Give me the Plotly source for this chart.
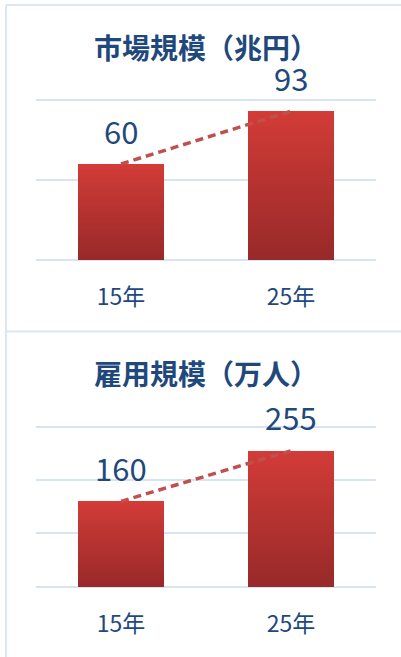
import plotly.graph_objects as go

# ---- data ----
categories = ["15年", "25年"]
market_values = [60, 93]          # 市場規模（兆円）
employment_values = [160, 255]    # 雇用規模（万人）
panel_titles = ["市場規模（兆円）", "雇用規模（万人）"]
market_grid = [0, 50, 100]
employment_grid = [0, 100, 200, 300]

W, H = 401, 657
TEXT = "#1f497d"
GRID = "#d9e4f3"
FONT = "Noto Sans CJK JP"

def py(px):  # pixel from top -> paper y
    return 1 - px / H

def px_x(px):
    return px / W

fig = go.Figure()

# pad = 2 px beyond the first/last gridline so edge gridlines are drawn
panels = [
    dict(vals=market_values, grid=market_grid, title=panel_titles[0],
         xa="x", ya="y", top=100.0, bottom=260.0, title_y=py(47)),
    dict(vals=employment_values, grid=employment_grid, title=panel_titles[1],
         xa="x2", ya="y2", top=426.7, bottom=586.7, title_y=py(373)),
]
PAD = 2.0
for p in panels:
    span = p["grid"][-1] - p["grid"][0]
    upp = span / (p["bottom"] - p["top"])   # units per pixel
    p["range"] = [p["grid"][0] - PAD * upp, p["grid"][-1] + PAD * upp]
    p["dom"] = [py(p["bottom"] + PAD), py(p["top"] - PAD)]

N = 40
top_rgb = (210, 59, 55)
bot_rgb = (152, 42, 41)

for p in panels:
    # gradient bars built from stacked segments
    for i in range(N):
        t = i / (N - 1)
        c = tuple(round(bot_rgb[k] + (top_rgb[k] - bot_rgb[k]) * t) for k in range(3))
        fig.add_trace(go.Bar(
            x=categories, y=[v / N for v in p["vals"]],
            xaxis=p["xa"], yaxis=p["ya"], width=0.505,
            marker=dict(color="rgb(%d,%d,%d)" % c, line=dict(width=0)),
            showlegend=False, hoverinfo="skip"))
    # dashed trend line
    fig.add_trace(go.Scatter(
        x=categories, y=p["vals"], mode="lines",
        xaxis=p["xa"], yaxis=p["ya"],
        line=dict(color="#c0504d", width=3.5, dash="8px,5px"),
        showlegend=False, hoverinfo="skip"))
    # value labels
    for c, v in zip(categories, p["vals"]):
        fig.add_annotation(x=c, y=v, xref=p["xa"], yref=p["ya"], yshift=34,
                           text=str(v), showarrow=False, yanchor="middle",
                           font=dict(family=FONT, size=31, color=TEXT))
    # panel title
    fig.add_annotation(x=px_x(206), y=p["title_y"], xref="paper", yref="paper",
                       text=p["title"], showarrow=False, yanchor="middle",
                       font=dict(family=FONT, size=28, color=TEXT, weight=700))

xdom = [px_x(36), px_x(376)]
axis_x = dict(domain=xdom, showgrid=False, zeroline=False, showline=False,
              ticks="", ticklabelstandoff=19,
              tickfont=dict(family=FONT, size=23, color=TEXT))
fig.update_layout(
    width=W, height=H, margin=dict(l=0, r=0, t=0, b=0),
    paper_bgcolor="white", plot_bgcolor="white",
    barmode="stack", bargap=0.495,
    xaxis=dict(axis_x, anchor="y"),
    xaxis2=dict(axis_x, anchor="y2"),
    yaxis=dict(domain=panels[0]["dom"], anchor="x", range=panels[0]["range"],
               tickvals=market_grid, showticklabels=False,
               gridcolor=GRID, gridwidth=2, zeroline=False),
    yaxis2=dict(domain=panels[1]["dom"], anchor="x2", range=panels[1]["range"],
                tickvals=employment_grid, showticklabels=False,
                gridcolor=GRID, gridwidth=2, zeroline=False),
    font=dict(family=FONT),
)

# panel frame lines
border = "#dce6f4"
fig.add_shape(type="line", xref="paper", yref="paper",
              x0=px_x(6), x1=px_x(6), y0=0, y1=py(5), line=dict(color=border, width=2))
fig.add_shape(type="line", xref="paper", yref="paper",
              x0=px_x(6), x1=1, y0=py(5), y1=py(5), line=dict(color=border, width=2))
fig.add_shape(type="line", xref="paper", yref="paper",
              x0=px_x(6), x1=1, y0=py(331.5), y1=py(331.5), line=dict(color=border, width=2))

fig.write_html("out.html", config={"displayModeBar": False},
               post_script="document.body.style.margin='0px';")
